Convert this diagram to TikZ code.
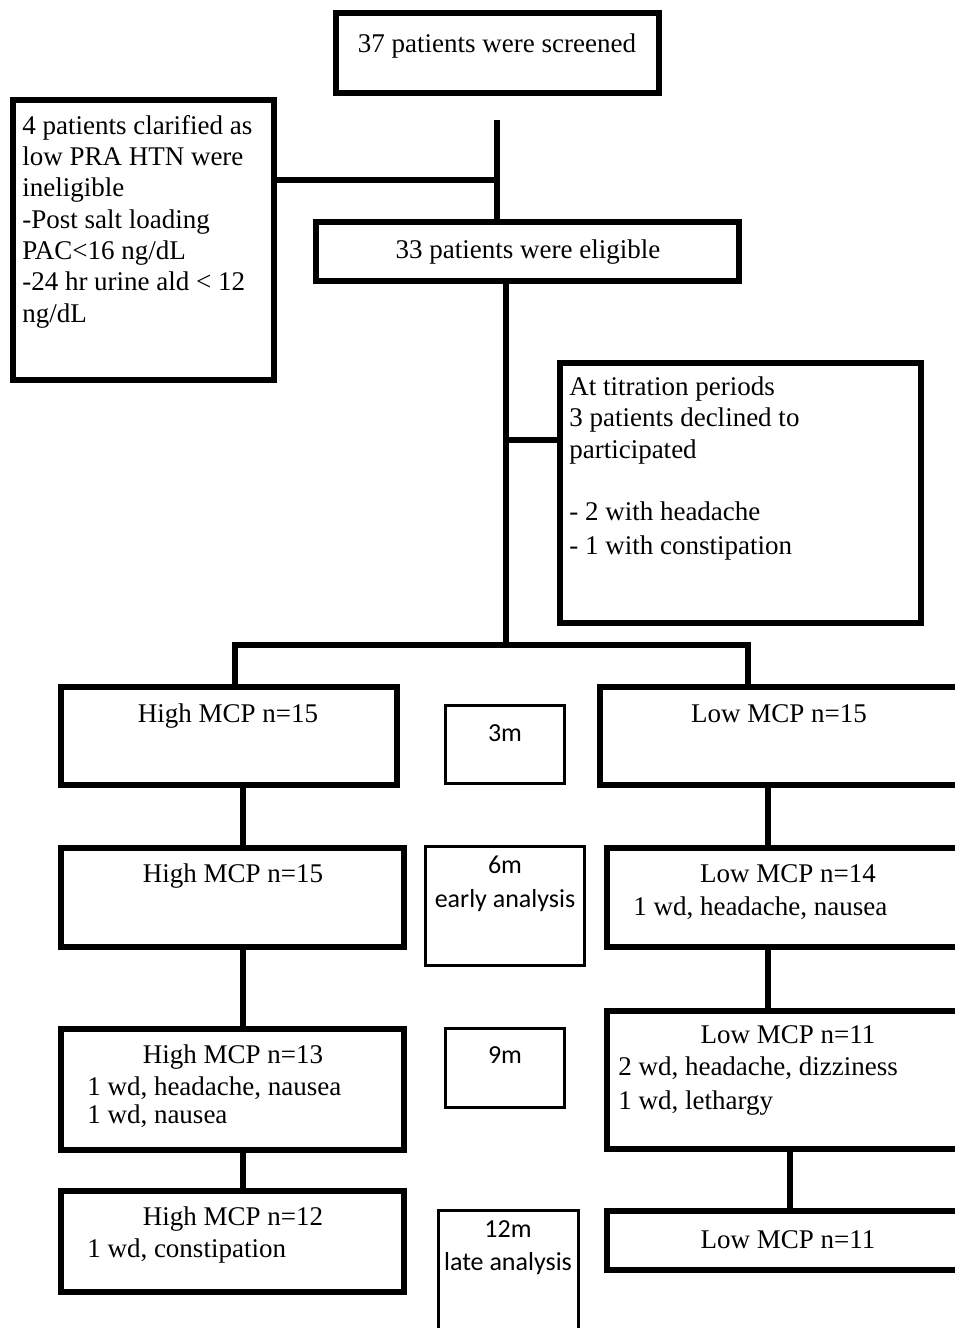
\documentclass[tikz,border=0pt]{standalone}
\usepackage{fontspec}
\setmainfont{Liberation Serif}
\newfontfamily\labfont{Carlito}
\begin{document}
\begin{tikzpicture}[x=0.75pt,y=-0.75pt,
  bigbox/.style args={#1/#2/#3/#4}{draw, line width=4.5pt, inner sep=0pt,
    at={({(#1+#3)/2},{(#2+#4)/2})},
    minimum width={(#3-#1-6)*0.75pt}, minimum height={(#4-#2-6)*0.75pt}},
  smallbox/.style args={#1/#2/#3/#4}{draw, line width=2pt, inner sep=0pt,
    at={({(#1+#3)/2},{(#2+#4)/2})},
    minimum width={(#3-#1-2.7)*0.75pt}, minimum height={(#4-#2-2.7)*0.75pt}},
  conn/.style={line width=4.5pt},
  serif/.style={inner sep=0pt, font=\fontsize{20.25}{23.5}\selectfont},
  ctext/.style={serif, anchor=base},
  ltext/.style={serif, anchor=base west, align=left},
  mtext/.style={inner sep=0pt, anchor=base, font=\labfont\fontsize{19.5}{22}\selectfont},
]
\useasboundingbox (0,0) rectangle (955,1328);
\clip (0,0) rectangle (955,1328);

% boxes
\node[bigbox={333/10/662/96}] (scr) {};
\node[bigbox={10/97/277/383}] (inel) {};
\node[bigbox={313/219/742/284}] (elig) {};
\node[bigbox={557/360/924/626}] (attr) {};
\node[bigbox={58/684/400/788}] (h1) {};
\node[bigbox={597/684/965/788}] (l1) {};
\node[bigbox={58/845/407/950}] (h2) {};
\node[bigbox={604/845/972/950}] (l2) {};
\node[bigbox={58/1026/407/1153}] (h3) {};
\node[bigbox={604/1008/972/1152}] (l3) {};
\node[bigbox={58/1188/407/1295}] (h4) {};
\node[bigbox={604/1208/972/1273}] (l4) {};
\node[smallbox={444/704/566/785}] (m3) {};
\node[smallbox={424/845/586/967}] (m6) {};
\node[smallbox={444/1027/566/1109}] (m9) {};
\node[smallbox={437/1209/580/1345}] (m12) {};

% connectors
\coordinate (s0) at (497,120);
\coordinate (j1) at (497,180);
\coordinate (j2) at (506,440);
\coordinate (j3) at (506,645);
\coordinate (bl) at (235,645);
\coordinate (br) at (748,645);
\coordinate (xh) at (243,0);
\coordinate (xl) at (768,0);
\coordinate (xm) at (790,0);
\draw[conn] (s0) -- (s0 |- elig.north);
\draw[conn] (inel.east |- j1) -- (j1);
\draw[conn] (j3 |- elig.south) -- (j3);
\draw[conn] (j2) -- (j2 -| attr.west);
\draw[conn] (bl |- h1.north) -- (bl) -- (br) -- (br |- l1.north);
\draw[conn] (xh |- h1.south) -- (xh |- h2.north);
\draw[conn] (xh |- h2.south) -- (xh |- h3.north);
\draw[conn] (xh |- h3.south) -- (xh |- h4.north);
\draw[conn] (xl |- l1.south) -- (xl |- l2.north);
\draw[conn] (xl |- l2.south) -- (xl |- l3.north);
\draw[conn] (xm |- l3.south) -- (xm |- l4.north);

% texts (multi-line nodes are placed at the baseline of their last line)
\node[ctext] (t-scr) at (497,52) {37 patients were screened};
\node[ltext] (t-inel) at (22,322) {4 patients clarified as\\low PRA HTN were\\ineligible\\-Post salt loading\\PAC<16 ng/dL\\-24 hr urine ald < 12\\ng/dL};
\node[ctext] (t-elig) at (528,258) {33 patients were eligible};
\node[ltext] (t-attr) at (569,458) {At titration periods\\3 patients declined to\\participated};
\node[ltext, font=\fontsize{20.25}{25.5}\selectfont] (t-attr2) at (569,554) {- 2 with headache\\- 1 with constipation};
\node[ctext] (t-h1) at (228,722) {High MCP n=15};
\node[ctext] (t-l1) at (779,722) {Low MCP n=15};
\node[ctext] (t-h2) at (233,882) {High MCP n=15};
\node[ctext] (t-l2) at (788,882) {Low MCP n=14};
\node[ltext] (t-l2b) at (633,915) {1 wd, headache, nausea};
\node[ctext] (t-h3) at (233,1063) {High MCP n=13};
\node[ltext, font=\fontsize{20.25}{21}\selectfont] (t-h3b) at (87,1123) {1 wd, headache, nausea\\1 wd, nausea};
\node[ctext] (t-l3) at (788,1043) {Low MCP n=11};
\node[ltext, font=\fontsize{20.25}{25.5}\selectfont] (t-l3b) at (618,1109) {2 wd, headache, dizziness\\1 wd, lethargy};
\node[ctext] (t-h4) at (233,1225) {High MCP n=12};
\node[ltext] (t-h4b) at (87,1257) {1 wd, constipation};
\node[ctext] (t-l4) at (788,1248) {Low MCP n=11};
\node[mtext] (t-m3) at (505,741) {3m};
\node[mtext] (t-m6) at (505,873) {6m};
\node[mtext] (t-m6b) at (505,907) {early analysis};
\node[mtext] (t-m9) at (505,1063) {9m};
\node[mtext] (t-m12) at (508,1237) {12m};
\node[mtext] (t-m12b) at (508,1270) {late analysis};
\end{tikzpicture}
\end{document}
